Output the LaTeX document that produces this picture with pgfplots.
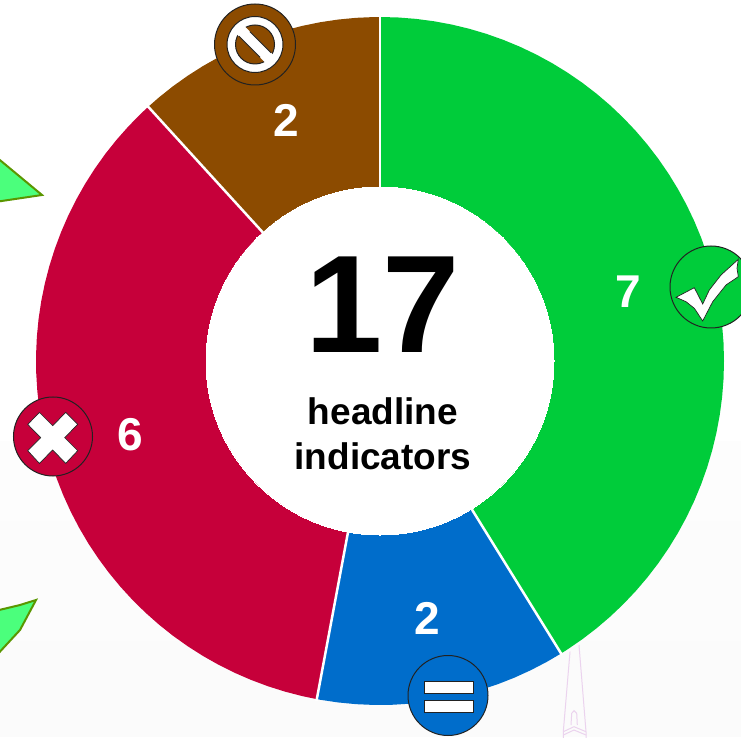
\documentclass[border=0pt]{standalone}
\usepackage{pgfplots}
\pgfplotsset{compat=1.18}
\usepackage{fontspec}
\setmainfont{Liberation Sans}
\definecolor{cgreen}{HTML}{00CC3A}
\definecolor{cblue}{HTML}{006DCB}
\definecolor{cred}{HTML}{C6003A}
\definecolor{cbrown}{HTML}{8C4B00}
\definecolor{edge}{HTML}{222222}
\definecolor{leaf}{HTML}{4BFF7C}
\definecolor{leafedge}{HTML}{5A9600}
\definecolor{pinkline}{HTML}{EBD3EE}
\newcommand{\fs}[1]{\fontsize{#1}{#1}\selectfont\bfseries}
\pgfplotsset{pixelaxis/.style={
    at={(0,0)}, anchor=south west,
    scale only axis,
    width=741pt,
    height=737pt,
    xmin=-380, xmax=361,
    ymin=-376, ymax=361,
    hide axis,
    clip=true,
}}
\begin{document}
\begin{tikzpicture}
\begin{axis}[pixelaxis]
% faint page shading towards the bottom
\addplot[draw=none, fill=white!99.3!black] coordinates {(-380,-80) (361,-80) (361,-160) (-380,-160)} -- cycle;
\addplot[draw=none, fill=white!98.9!black] coordinates {(-380,-160) (361,-160) (361,-280) (-380,-280)} -- cycle;
\addplot[draw=none, fill=white!98.5!black] coordinates {(-380,-280) (361,-280) (361,-376) (-380,-376)} -- cycle;

% stray shapes behind the ring
\addplot[fill=leaf, draw=leafedge, line width=2pt] coordinates {(-385,205) (-338,166) (-385,159)} -- cycle;
\addplot[fill=leaf, draw=leafedge, line width=2pt] coordinates {(-385,-250) (-360,-244) (-344,-239) (-360,-269) (-385,-296)} -- cycle;
\addplot[pinkline, line width=1pt] coordinates {(190,-290.7) (183.3,-370.7) (183.3,-380)};
\addplot[pinkline, line width=1pt] coordinates {(199,-284) (206,-370.7) (206,-380)};
\addplot[pinkline, line width=1pt] coordinates {(191,-364) (191.7,-352.3) (194,-349.7) (196.7,-352.3) (197.3,-364)};
\addplot[pinkline, line width=1pt] coordinates {(183.3,-370.7) (194,-365.7) (206,-370.7)};
\addplot[pinkline, line width=1pt] coordinates {(183.3,-374) (194,-369) (206,-374)};

% ring: 7, 2, 6, 2 of 17, clockwise from the top (theta, r)
\addplot[data cs=polar, fill=cgreen, draw=none] coordinates {
(0,0) (90,344) (87,344) (84,344) (81,344) (78,344) (75,344) (72,344) (69,344) (66,344) (63,344)
(60,344) (57,344) (54,344) (51,344) (48,344) (45,344) (42,344) (39,344) (36,344) (33,344)
(30,344) (27,344) (24,344) (21,344) (18,344) (15,344) (12,344) (9,344) (6,344) (3,344)
(0,344) (-3,344) (-6,344) (-9,344) (-12,344) (-15,344) (-18,344) (-21,344) (-24,344) (-27,344)
(-30,344) (-33,344) (-36,344) (-39,344) (-42,344) (-45,344) (-48,344) (-51,344) (-54,344) (-57,344)
(-58.235,344)} -- cycle;
\addplot[data cs=polar, fill=cblue, draw=none] coordinates {
(0,0) (-58.235,344) (-61,344) (-64,344) (-67,344) (-70,344) (-73,344) (-76,344) (-79,344) (-82,344)
(-85,344) (-88,344) (-91,344) (-94,344) (-97,344) (-100,344) (-100.588,344)} -- cycle;
\addplot[data cs=polar, fill=cred, draw=none] coordinates {
(0,0) (-100.588,344) (-103,344) (-106,344) (-109,344) (-112,344) (-115,344) (-118,344) (-121,344)
(-124,344) (-127,344) (-130,344) (-133,344) (-136,344) (-139,344) (-142,344) (-145,344) (-148,344)
(-151,344) (-154,344) (-157,344) (-160,344) (-163,344) (-166,344) (-169,344) (-172,344) (-175,344)
(-178,344) (-181,344) (-184,344) (-187,344) (-190,344) (-193,344) (-196,344) (-199,344) (-202,344)
(-205,344) (-208,344) (-211,344) (-214,344) (-217,344) (-220,344) (-223,344) (-226,344) (-227.647,344)} -- cycle;
\addplot[data cs=polar, fill=cbrown, draw=none] coordinates {
(0,0) (-227.647,344) (-230,344) (-233,344) (-236,344) (-239,344) (-242,344) (-245,344) (-248,344)
(-251,344) (-254,344) (-257,344) (-260,344) (-263,344) (-266,344) (-269,344) (-270,344)} -- cycle;

% white gaps between the segments
\addplot[data cs=polar, white, line width=2.5pt] coordinates {(90,160) (90,346)};
\addplot[data cs=polar, white, line width=2.5pt] coordinates {(-58.235,160) (-58.235,346)};
\addplot[data cs=polar, white, line width=2.5pt] coordinates {(-100.588,160) (-100.588,346)};
\addplot[data cs=polar, white, line width=2.5pt] coordinates {(-227.647,160) (-227.647,346)};
% hole
\addplot[only marks, mark=*, mark size=174pt, mark options={fill=white, draw=white, line width=0pt}] coordinates {(0,0)};

% badges
\addplot[only marks, mark=*, mark size=41pt, mark options={fill=cgreen, draw=edge, line width=1pt}] coordinates {(331,74)};
\addplot[only marks, mark=*, mark size=39.5pt, mark options={fill=cred, draw=edge, line width=1pt}] coordinates {(-327,-75.5)};
\addplot[only marks, mark=*, mark size=40pt, mark options={fill=cblue, draw=edge, line width=1pt}] coordinates {(68,-334.5)};
\addplot[only marks, mark=*, mark size=40.5pt, mark options={fill=cbrown, draw=edge, line width=1pt}] coordinates {(-125,316.5)};
\addplot[only marks, mark=*, mark size=28pt, mark options={fill=white, draw=edge, line width=1pt}] coordinates {(-125,316.5)};
\addplot[only marks, mark=*, mark size=19.5pt, mark options={fill=cbrown, draw=edge, line width=1pt}] coordinates {(-125,316.5)};
\end{axis}

% second axis: marks of the first are drawn last, so glyphs and text go on top here
\begin{axis}[pixelaxis]
\addplot[fill=white, draw=edge, line width=0.7pt] coordinates {
(296,63.7) (314.3,73.3) (322.7,57) (329.3,71) (341,86) (358.3,101.7) (357,92.7) (358.3,84.3)
(346,76) (332.7,59.3) (322.7,40) (314.3,52.7) (306,59.3)} -- cycle;
\addplot[fill=white, draw=edge, line width=0.7pt] coordinates {
(-340.6,-51.4) (-327.3,-64.7) (-314.3,-51.4) (-302.3,-63.4) (-315.3,-76.7) (-302.3,-89.7)
(-314.3,-102.4) (-327.3,-89) (-340.6,-102.4) (-352.3,-89.7) (-339.3,-76.7) (-352.3,-63.4)} -- cycle;
\addplot[fill=white, draw=edge, line width=0.8pt] coordinates {(44.3,-320.7) (93.3,-320.7) (93.3,-332.3) (44.3,-332.3)} -- cycle;
\addplot[fill=white, draw=edge, line width=0.8pt] coordinates {(44.3,-339.7) (93.3,-339.7) (93.3,-351) (44.3,-351)} -- cycle;
% no-entry bar
\addplot[fill=white, draw=none] coordinates {(-105.5,304.8) (-113.3,297) (-144.5,328.2) (-136.7,336)} -- cycle;
\addplot[edge, line width=0.8pt] coordinates {(-108.9,308.2) (-130.2,329.5)};
\addplot[edge, line width=0.8pt] coordinates {(-119.8,303.5) (-141.1,324.8)};

% labels
\node[anchor=base, inner sep=0pt] at (axis cs:3,8) {\fs{139}17};
\node[anchor=base, inner sep=0pt] at (axis cs:3,-63.8) {\fs{37}headline};
\node[anchor=base, inner sep=0pt] at (axis cs:3,-108.8) {\fs{37}indicators};
\node[anchor=base, inner sep=0pt, text=white] at (axis cs:248.5,53) {\fs{46}7};
\node[anchor=base, inner sep=0pt, text=white] at (axis cs:47,-273) {\fs{46}2};
\node[anchor=base, inner sep=0pt, text=white] at (axis cs:-250,-89) {\fs{46}6};
\node[anchor=base, inner sep=0pt, text=white] at (axis cs:-94,224) {\fs{46}2};
\end{axis}
\pgfresetboundingbox
\path[use as bounding box] (0,0) rectangle (741pt,737pt);
\end{tikzpicture}
\end{document}
